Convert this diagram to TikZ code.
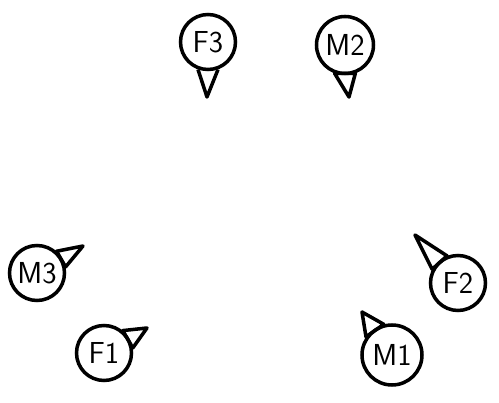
\documentclass[tikz,border=0pt]{standalone}
\usepackage{tikz}
\usetikzlibrary{positioning}

\begin{document}
\begin{tikzpicture}[
    person/.style={circle, draw, line width=2pt, minimum size=1.1cm, inner sep=0pt, font=\LARGE\sffamily},
    nose/.style={line width=2pt, line join=round}
]
    \useasboundingbox (0,0) rectangle (9.98,-8.06);

    % Seats
    \node[person] (F3) at (4.16,-0.84) {F3};
    \node[person, minimum size=1.14cm] (M2) at (6.90,-0.90) {M2};
    \node[person] (M3) at (0.74,-5.46) {M3};
    \node[person] (F1) at (2.08,-7.06) {F1};
    \node[person] (F2) at (9.16,-5.66) {F2};
    \node[person, minimum size=1.2cm] (M1) at (7.84,-7.10) {M1};

    % Nose tips
    \coordinate (F3n) at (4.14,-1.94);
    \coordinate (M2n) at (6.98,-1.94);
    \coordinate (M3n) at (1.66,-4.92);
    \coordinate (F1n) at (2.94,-6.56);
    \coordinate (F2n) at (8.30,-4.70);
    \coordinate (M1n) at (7.24,-6.24);

    % Noses
    \draw[nose] (F3.250) -- (F3n) -- (F3.290);
    \draw[nose] (M2.250) -- (M2n) -- (M2.290) -- cycle;
    \draw[nose] (M3.12) -- (M3n) -- (M3.48) -- cycle;
    \draw[nose] (F1.10) -- (F1n) -- (F1.50) -- cycle;
    \draw[nose] (F2.112) -- (F2n) -- (F2.152) -- cycle;
    \draw[nose] (M1.105) -- (M1n) -- (M1.145) -- cycle;
\end{tikzpicture}
\end{document}
